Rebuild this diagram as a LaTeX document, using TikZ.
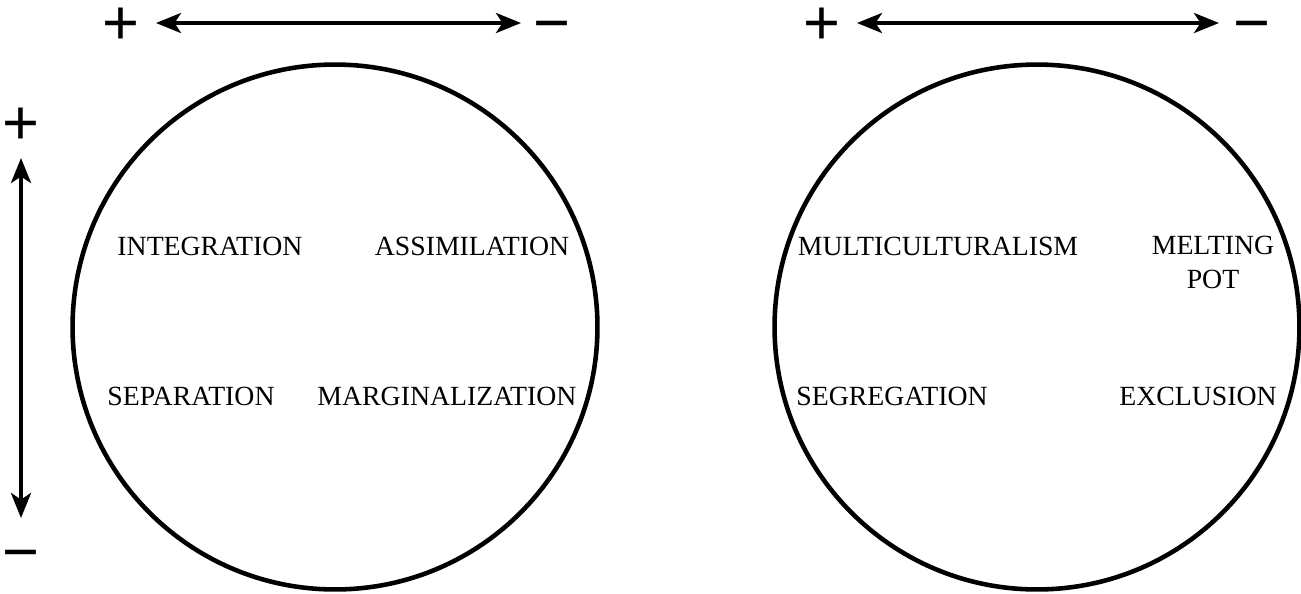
\documentclass[tikz,border=0pt]{standalone}
\usepackage{fontspec}
\setmainfont{Liberation Serif}
\newfontfamily\signfont{Liberation Sans}
\usetikzlibrary{arrows.meta}

\begin{document}
\begin{tikzpicture}[x=0.02cm, y=-0.02cm,
  ring/.style = {draw, circle, line width=2.6pt, minimum size=10.5cm, inner sep=0pt},
  word/.style = {font=\fontsize{15.8}{19.3}\selectfont, align=center, inner sep=0pt},
  sign/.style = {font=\signfont\fontsize{36}{36}\selectfont, inner sep=0pt, text height=24.6pt, text depth=0pt},
  axis/.style = {{Stealth[length=0.5cm, width=0.4cm, inset=0.13cm]}-{Stealth[length=0.5cm, width=0.4cm, inset=0.13cm]}, line width=2.2pt}]
\useasboundingbox (0,0) rectangle (1301,593);

% circles
\node[ring] (lcirc) at (335,327) {};
\node[ring] (rcirc) at (1037,327) {};

% scale signs
\node[sign] (lplus) at (121,23) {+};
\node[sign] (lminus) at (552,23) {−};
\node[sign] (rplus) at (822,23) {+};
\node[sign] (rminus) at (1252,23) {−};
\node[sign] (vplus) at (21,123) {+};
\node[sign] (vminus) at (21,552) {−};

\draw[axis, shorten <=0.7cm, shorten >=0.62cm] (lplus.center) -- (lminus.center);
\draw[axis, shorten <=0.7cm, shorten >=0.66cm] (rplus.center) -- (rminus.center);
\draw[axis, shorten <=0.7cm, shorten >=0.68cm] (vplus.center) -- (vminus.center);

% left circle
\node[word] (integ) at (210,246) {INTEGRATION};
\node[word] (assim) at (472,246) {ASSIMILATION};
\node[word] (separ) at (191,396) {SEPARATION};
\node[word] (margi) at (447,396) {MARGINALIZATION};

% right circle
\node[word] (multi) at (938,246) {MULTICULTURALISM};
\node[word] (melt) at (1213,262.5) {MELTING\\POT};
\node[word] (segre) at (892,396) {SEGREGATION};
\node[word] (exclu) at (1198,396) {EXCLUSION};
\end{tikzpicture}
\end{document}
